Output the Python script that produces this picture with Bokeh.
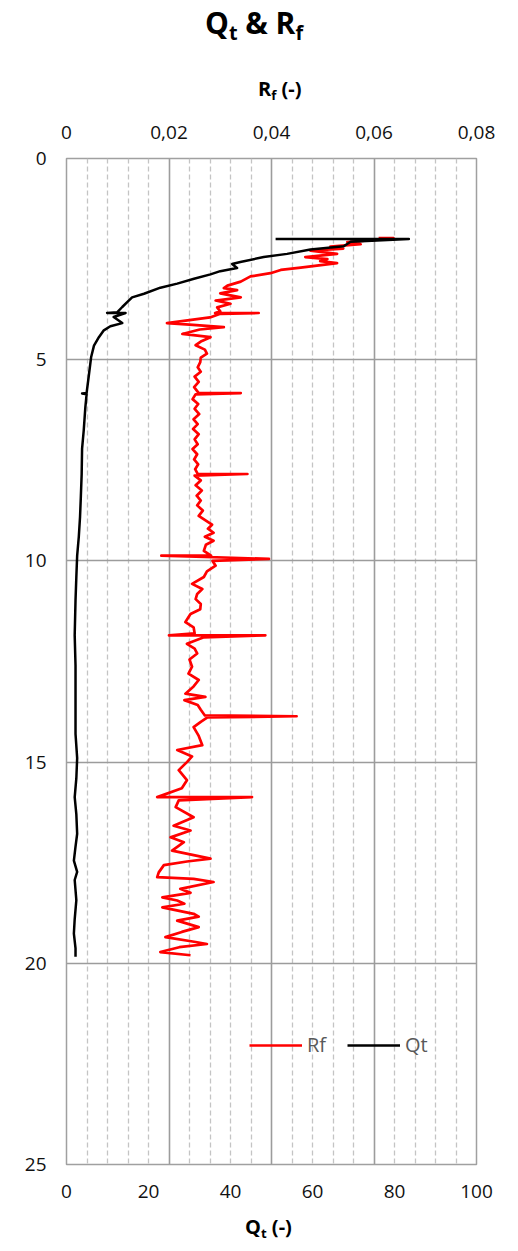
from bokeh.plotting import figure
from bokeh.layouts import column
from bokeh.models import (Range1d, LinearAxis, FixedTicker, Grid, Legend,
                          LegendItem, CustomJSTickFormatter, Div)
from bokeh.embed import file_html
from bokeh.resources import INLINE

# ---------------- data ----------------
qt_depth = [2.00, 2.00, 2.07, 2.18, 2.26, 2.37, 2.45, 2.57, 2.62, 2.72, 2.80, 2.88, 2.99,
            3.11, 3.21, 3.36, 3.45, 3.57, 3.69, 3.82, 3.84, 3.84, 3.94, 4.09, 4.17, 4.27,
            4.44, 4.65, 4.94, 5.43, 5.83, 5.84, 5.86, 6.18, 6.76, 7.21, 7.84, 8.40, 8.91,
            9.40, 9.87, 10.40, 10.98, 11.85, 12.60, 13.34, 14.30, 14.90, 15.40, 15.87,
            16.30, 16.78, 17.10, 17.45, 17.73, 17.93, 18.43, 18.90, 19.26, 19.63, 19.84]
qt_vals = [51.0, 83.5, 69.3, 67.6, 59.5, 53.8, 48.1, 42.4, 40.4, 41.6, 37.5, 35.1, 31.1,
           27.0, 22.9, 18.9, 16.0, 14.8, 13.6, 12.4, 9.9, 14.4, 11.5, 13.6, 10.7, 9.1,
           7.9, 6.7, 6.0, 5.4, 4.9, 3.8, 4.9, 4.6, 4.2, 3.8, 3.7, 3.5, 3.3,
           3.0, 2.6, 2.4, 2.2, 2.0, 2.2, 2.2, 2.2, 2.6, 2.4, 2.0,
           2.4, 2.6, 2.2, 1.8, 2.6, 2.0, 2.4, 2.0, 1.8, 2.2, 2.2]

rf_depth = [1.98, 1.98, 2.08, 2.13, 2.19, 2.24, 2.29, 2.37, 2.45, 2.50, 2.55, 2.60, 2.71,
            2.77, 2.85, 2.93, 3.06, 3.16, 3.22, 3.27, 3.35, 3.45, 3.53, 3.61, 3.70, 3.80,
            3.84, 3.84, 3.86, 3.95, 4.09, 4.13, 4.19, 4.25, 4.36, 4.44, 4.55, 4.64, 4.75,
            4.85, 4.95, 5.06, 5.19, 5.30, 5.42, 5.55, 5.68, 5.83, 5.83, 5.86, 5.98, 6.10,
            6.22, 6.35, 6.48, 6.60, 6.72, 6.85, 6.98, 7.10, 7.22, 7.35, 7.48, 7.60, 7.72,
            7.84, 7.84, 7.88, 8.00, 8.12, 8.25, 8.38, 8.50, 8.62, 8.75, 8.88, 9.00, 9.10,
            9.20, 9.30, 9.40, 9.50, 9.60, 9.75, 9.87, 9.87, 9.95, 10.00, 10.12, 10.26,
            10.40, 10.57, 10.70, 10.82, 10.95, 11.07, 11.20, 11.32, 11.52, 11.65, 11.80,
            11.85, 11.85, 11.90, 12.06, 12.18, 12.30, 12.45, 12.63, 12.80, 12.96, 13.12,
            13.30, 13.38, 13.46, 13.58, 13.70, 13.84, 13.86, 13.89, 14.00, 14.13, 14.35,
            14.58, 14.70, 14.86, 15.00, 15.20, 15.45, 15.65, 15.87, 15.87, 15.95, 16.12,
            16.37, 16.58, 16.70, 16.87, 16.99, 17.20, 17.40, 17.47, 17.56, 17.74, 17.86,
            17.90, 17.98, 18.15, 18.25, 18.36, 18.44, 18.52, 18.61, 18.77, 18.84, 18.94,
            19.10, 19.22, 19.35, 19.47, 19.52, 19.60, 19.72, 19.80]
rf_vals = [0.0609, 0.0638, 0.0548, 0.0574, 0.0515, 0.0540, 0.0476, 0.0528, 0.0466, 0.0509,
           0.0495, 0.0528, 0.0457, 0.0418, 0.0398, 0.0359, 0.0340, 0.0314, 0.0307, 0.0333,
           0.0300, 0.0340, 0.0291, 0.0320, 0.0294, 0.0300, 0.0290, 0.0375, 0.0300, 0.0280,
           0.0196, 0.0240, 0.0307, 0.0260, 0.0226, 0.0281, 0.0262, 0.0252, 0.0270, 0.0274,
           0.0262, 0.0261, 0.0256, 0.0262, 0.0250, 0.0258, 0.0249, 0.0258, 0.0340, 0.0252,
           0.0246, 0.0257, 0.0250, 0.0259, 0.0248, 0.0256, 0.0247, 0.0258, 0.0250, 0.0256,
           0.0246, 0.0255, 0.0249, 0.0257, 0.0251, 0.0256, 0.0353, 0.0250, 0.0262, 0.0252,
           0.0264, 0.0254, 0.0262, 0.0255, 0.0266, 0.0258, 0.0272, 0.0284, 0.0276, 0.0287,
           0.0270, 0.0287, 0.0272, 0.0268, 0.0282, 0.0185, 0.0395, 0.0285, 0.0291, 0.0274,
           0.0268, 0.0245, 0.0265, 0.0255, 0.0252, 0.0262, 0.0261, 0.0242, 0.0232, 0.0248,
           0.0250, 0.0200, 0.0388, 0.0268, 0.0235, 0.0250, 0.0255, 0.0240, 0.0245, 0.0238,
           0.0258, 0.0248, 0.0232, 0.0271, 0.0230, 0.0256, 0.0262, 0.0270, 0.0449, 0.0275,
           0.0262, 0.0248, 0.0258, 0.0265, 0.0216, 0.0245, 0.0235, 0.0219, 0.0235, 0.0225,
           0.0177, 0.0362, 0.0219, 0.0213, 0.0248, 0.0209, 0.0242, 0.0203, 0.0229, 0.0206,
           0.0281, 0.0235, 0.0190, 0.0180, 0.0177, 0.0248, 0.0287, 0.0222, 0.0242, 0.0187,
           0.0216, 0.0230, 0.0187, 0.0248, 0.0258, 0.0216, 0.0258, 0.0225, 0.0193, 0.0252,
           0.0274, 0.0220, 0.0183, 0.0242]

depth_ticks = [0, 5, 10, 15, 20, 25]
qt_ticks = [0, 20, 40, 60, 80, 100]
rf_ticks = [0, 0.02, 0.04, 0.06, 0.08]
# gridlines follow the Rf axis (0.02 major, 0.004 minor) expressed on the Qt scale
grid_major = [0, 25, 50, 75, 100]
grid_minor = [m + k * 5 for m in (0, 25, 50, 75) for k in range(1, 5)]

FONT = "Open Sans"
W = 518
HEAD_H, MAIN_H, FOOT_H = 110, 1100, 41

SUB = "font-size:0.66em; position:relative; top:0.28em;"


def piece(html, left, top, size, lh):
    return ('<div style="position:absolute; left:%dpx; top:%dpx; white-space:nowrap; '
            'font-family:\'%s\'; font-weight:bold; font-size:%dpx; line-height:%dpx; '
            'color:#000;">%s</div>' % (left, top, FONT, size, lh, html))


def box(h, inner):
    return ('<div style="position:relative; width:%dpx; height:%dpx; margin:0; '
            'padding:0; overflow:visible;">%s</div>' % (W, h, inner))


title_html = 'Q<span style="%s">t</span> &amp; R<span style="%s">f</span>' % (SUB, SUB)
rf_html = 'R<span style="%s">f</span> (-)' % SUB
qt_html = 'Q<span style="%s">t</span> (-)' % SUB

head = Div(text=box(HEAD_H, piece(title_html, 205, 3, 30, 40) +
                    piece(rf_html, 258, 74, 20, 30)),
           width=W, height=HEAD_H, margin=0)

# ---------------- main plot ----------------
p = figure(width=W, height=MAIN_H, output_backend="svg", toolbar_location=None,
           x_range=Range1d(0, 100), y_range=Range1d(25, 0),
           min_border_left=66, min_border_right=42, min_border_top=48,
           min_border_bottom=46)
p.extra_x_ranges = {"rf": Range1d(0, 0.08)}

p.grid.visible = False
vgrid = Grid(dimension=0, ticker=FixedTicker(ticks=grid_major, minor_ticks=grid_minor),
             grid_line_color="#9c9c9c", grid_line_width=1.6,
             minor_grid_line_color="#c4c4c4", minor_grid_line_width=1.3,
             minor_grid_line_dash="5 3")
hgrid = Grid(dimension=1, ticker=FixedTicker(ticks=depth_ticks),
             grid_line_color="#9c9c9c", grid_line_width=1.6)
p.add_layout(vgrid)
p.add_layout(hgrid)

p.outline_line_color = "#a0a0a0"
p.outline_line_width = 1.5

top_axis = LinearAxis(x_range_name="rf", ticker=FixedTicker(ticks=rf_ticks),
                      formatter=CustomJSTickFormatter(
                          code='return tick === 0 ? "0" : tick.toFixed(2).replace(".", ",");'))
p.add_layout(top_axis, "above")
p.below[0].ticker = FixedTicker(ticks=qt_ticks)
p.left[0].ticker = FixedTicker(ticks=depth_ticks)

for ax in [p.below[0], p.left[0], top_axis]:
    ax.axis_line_color = None
    ax.major_tick_line_color = None
    ax.minor_tick_line_color = None
    ax.major_tick_out = 0
    ax.major_tick_in = 0
    ax.minor_tick_out = 0
    ax.major_label_standoff = 20
    ax.major_label_text_font = FONT
    ax.major_label_text_font_size = "19px"
    ax.major_label_text_color = "#111111"

r_rf = p.line(rf_vals, rf_depth, x_range_name="rf", line_color="#ff0000",
              line_width=2.7, line_join="round")
r_qt = p.line(qt_vals, qt_depth, line_color="#000000", line_width=2.5, line_join="round")

legend = Legend(items=[LegendItem(label="Rf", renderers=[r_rf]),
                       LegendItem(label="Qt", renderers=[r_qt])],
                orientation="horizontal", location=(183, 106),
                border_line_color=None, background_fill_alpha=0,
                padding=0, margin=0, spacing=20, label_standoff=5,
                glyph_width=53, glyph_height=20,
                label_text_font=FONT, label_text_font_size="20px",
                label_text_color="#595959")
p.add_layout(legend)

# ---------------- footer: Qt axis title ----------------
foot = Div(text=box(FOOT_H, piece(qt_html, 245, 2, 20, 30)),
           width=W, height=FOOT_H, margin=0)

layout = column(head, p, foot, spacing=0)
open("out.html", "w").write(file_html(layout, INLINE))
